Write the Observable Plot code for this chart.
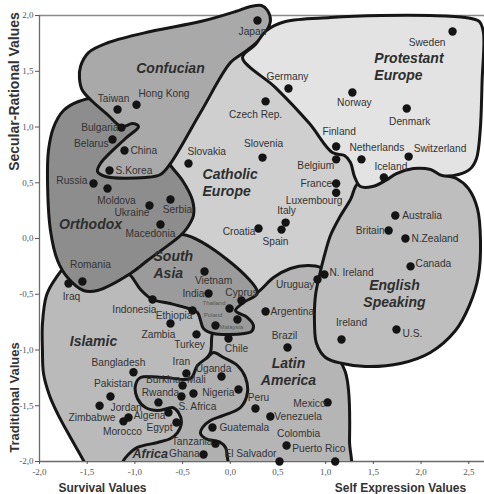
<!DOCTYPE html>
<html><head><meta charset="utf-8">
<script src="https://cdn.jsdelivr.net/npm/d3@7"></script>
<script src="https://cdn.jsdelivr.net/npm/@observablehq/plot@0.6"></script>
<style>
body{margin:0;background:#fff;}
#chart svg{display:block;}
</style></head><body><div id="chart"></div>
<script>
// ---- data ----
const countryNames = ["Japan","Sweden","Germany","Norway","Denmark","Czech Rep.","Finland","Belgium","Netherlands","Switzerland","Iceland","France","Luxembourg","Italy","Spain","Croatia","Slovenia","Slovakia","Australia","Britain","N.Zealand","Canada","N. Ireland","Uruguay","Argentina","Ireland","U.S.","Brazil","Mexico","Peru","Venezuela","Colombia","Puerto Rico","El Salvador","Guatemala","Tanzania","Ghana","Nigeria","Uganda","Iran","Burkina","Mali","S. Africa","Rwanda","Algeria","Egypt","Zimbabwe","Morocco","Jordan","Pakistan","Bangladesh","Turkey","Chile","Zambia","Ethiopia","Indonesia","India","Vietnam","Thailand","Cyprus","Poland","Malaysia","Romania","Iraq","Macedonia","Serbia","Ukraine","Moldova","Russia","S.Korea","China","Belarus","Bulgaria","Taiwan","Hong Kong"];
const survivalSelf = [0.285,2.33,0.61,1.28,1.85,0.37,1.11,1.11,1.375,1.87,1.61,1.11,1.11,0.58,0.537,0.296,0.338,-0.438,1.73,1.66,1.836,1.89,0.987,0.914,0.37,1.166,1.742,0.60,1.02,0.264,0.42,0.59,1.10,0.516,-0.187,-0.155,-0.28,0.086,-0.092,-0.46,-0.50,-0.386,-0.512,-0.753,-0.648,-0.564,-1.12,-1.067,-1.37,-1.256,-1.015,-0.354,-0.019,-0.627,-0.396,-0.815,-0.228,-0.27,-0.008,0.117,0.075,-0.155,-1.55,-1.696,-0.732,-0.627,-0.847,-1.287,-1.434,-1.266,-1.109,-1.235,-1.14,-1.182,-0.983];
const tradSecular = [1.955,1.857,1.345,1.31,1.166,1.23,0.825,0.71,0.71,0.735,0.547,0.493,0.41,0.143,0.08,0.09,0.726,0.673,0.206,0.072,0.0,-0.25,-0.323,-0.368,-0.655,-0.906,-0.816,-0.978,-1.47,-1.525,-1.596,-1.857,-2.0,-2.0,-1.695,-1.84,-1.937,-1.354,-1.238,-1.21,-1.318,-1.39,-1.417,-1.47,-1.56,-1.65,-1.64,-1.605,-1.50,-1.417,-1.20,-0.86,-0.897,-0.762,-0.646,-0.547,-0.493,-0.296,-0.628,-0.556,-0.726,-0.78,-0.386,-0.404,0.126,0.35,0.296,0.448,0.493,0.61,0.79,0.888,0.995,1.157,1.20];

const xTicks = [-2,-1.5,-1,-0.5,0,0.5,1,1.5,2,2.5];
const yTicks = [-2,-1.5,-1,-0.5,0,0.5,1,1.5,2];

// zone outlines (data coordinates)
const catholicZone = [[0.023,1.686],[0.526,1.372],[0.862,1.058],[1.103,0.807],[1.281,0.744],[1.365,0.475],[1.26,0.296],[1.082,-0.018],[0.966,-0.332],[0.63,-0.305],[0.285,-0.511],[-0.543,0.0],[-0.438,0.206],[-0.48,0.386],[-0.68,0.61],[-0.365,1.148]];
const islamicZone = [[-1.675,-0.215],[-1.832,-0.359],[-1.927,-0.511],[-1.969,-0.762],[-1.969,-1.004],[-1.958,-1.211],[-1.895,-1.408],[-1.811,-1.57],[-1.675,-1.785],[-1.539,-1.991],[-1.465,-2.126],[0.002,-2.126],[0.002,-0.915],[-0.155,-0.735],[-0.312,-0.60],[-0.732,-0.377],[-1.151,-0.215],[-1.465,-0.215]];
const latinZone = [[0.285,-0.484],[0.453,-0.35],[0.63,-0.269],[0.81,-0.242],[0.945,-0.26],[1.029,-0.332],[1.07,-0.556],[1.082,-0.915],[1.103,-1.004],[1.208,-1.202],[1.24,-1.363],[1.25,-1.812],[1.229,-2.126],[-0.396,-2.126],[-0.396,-1.453],[-0.354,-1.256],[-0.281,-1.112],[-0.208,-1.022],[-0.187,-0.852],[-0.103,-0.735],[0.0,-0.61]];
const africaZone = [[-0.941,-1.247],[-0.68,-1.247],[-0.417,-1.256],[-0.344,-1.139],[-0.239,-1.067],[-0.176,-1.022],[-0.071,-1.067],[0.075,-1.139],[0.159,-1.247],[0.18,-1.381],[0.107,-1.516],[-0.071,-1.587],[-0.208,-1.632],[-0.291,-1.695],[-0.312,-1.749],[-0.26,-1.794],[-0.103,-1.83],[-0.05,-1.874],[-0.029,-1.973],[-0.019,-2.126],[-1.172,-2.126],[-1.119,-1.991],[-1.078,-1.946],[-0.973,-1.874],[-0.763,-1.83],[-0.627,-1.794],[-0.553,-1.74],[-0.512,-1.65],[-0.543,-1.561],[-0.606,-1.516],[-0.658,-1.525],[-0.763,-1.543],[-0.889,-1.516],[-0.973,-1.435],[-0.994,-1.318]];
const southAsiaZone = [[-1.151,-0.269],[-0.836,-0.108],[-0.501,0.036],[0.285,-0.484],[0.138,-0.574],[0.055,-0.646],[0.18,-0.709],[0.243,-0.78],[0.222,-0.834],[0.149,-0.852],[-0.176,-0.852],[-0.281,-0.807],[-0.312,-0.735],[-0.344,-0.664],[-0.438,-0.628],[-0.627,-0.583],[-0.815,-0.547],[-0.941,-0.457],[-1.046,-0.332]];
const orthodoxZone = [[-1.591,1.229],[-1.413,1.256],[-1.151,1.121],[-0.941,1.076],[-0.732,0.789],[-0.627,0.655],[-0.501,0.52],[-0.396,0.341],[-0.386,0.206],[-0.449,0.099],[-0.522,0.027],[-0.868,-0.197],[-1.046,-0.314],[-1.392,-0.466],[-1.539,-0.466],[-1.706,-0.35],[-1.811,-0.197],[-1.885,0.072],[-1.916,0.52],[-1.906,0.789],[-1.853,0.996],[-1.748,1.148]];
const confucianZone = [[-1.57,1.543],[-1.486,1.668],[-1.277,1.758],[-0.836,1.857],[-0.312,1.946],[0.055,2.036],[0.212,2.081],[0.327,2.09],[0.39,2.045],[0.421,1.955],[0.37,1.848],[0.264,1.749],[0.128,1.659],[0.002,1.578],[-0.312,1.13],[-0.627,0.673],[-0.732,0.574],[-0.889,0.547],[-1.308,0.556],[-1.392,0.601],[-1.361,0.673],[-1.099,0.897],[-0.962,1.004],[-1.025,1.031],[-1.14,1.004],[-1.287,1.112],[-1.444,1.229],[-1.549,1.327],[-1.581,1.435]];
const englishZone = [[1.344,0.502],[1.627,0.556],[1.92,0.655],[2.12,0.628],[2.224,0.574],[2.371,0.538],[2.497,0.448],[2.591,0.269],[2.623,-0.018],[2.602,-0.332],[2.507,-0.60],[2.361,-0.825],[2.098,-1.022],[1.784,-1.121],[1.417,-1.148],[1.176,-1.121],[0.998,-1.067],[0.904,-0.942],[0.883,-0.762],[0.893,-0.511],[0.935,-0.332],[0.987,-0.152],[1.05,0.027],[1.145,0.188],[1.26,0.35]];
const protestantZone = [[0.128,1.623],[0.264,1.74],[0.379,1.865],[0.579,1.946],[1.05,1.982],[1.574,2.0],[2.10,2.0],[2.465,1.982],[2.612,1.946],[2.654,1.848],[2.64,1.417],[2.62,0.969],[2.581,0.717],[2.52,0.628],[2.392,0.574],[2.22,0.565],[2.10,0.619],[1.92,0.628],[1.742,0.583],[1.627,0.52],[1.491,0.466],[1.365,0.466],[1.302,0.556],[1.26,0.682],[1.197,0.744],[1.07,0.771],[0.83,1.031],[0.474,1.354]];

const zoneNames = ["Confucian","Protestant\nEurope","Catholic\nEurope","Orthodox","South\nAsia","Islamic","English\nSpeaking","Latin\nAmerica","Africa"];
const zoneLabelX = [-0.627,1.51,-0.291,-1.465,-0.805,-1.434,1.721,0.61,-1.025];
const zoneLabelY = [1.534,1.547,0.507,0.135,-0.229,-0.915,-0.493,-1.188,-1.928];

// ---- presentation ----
const zoneStyles = [
  {pts: catholicZone, fill: "#cfcfcf", stroke: "none", curve: "linear-closed"},
  {pts: islamicZone, fill: "#bababa"},
  {pts: latinZone, fill: "#b5b5b5"},
  {pts: africaZone, fill: "#b0b0b0"},
  {pts: southAsiaZone, fill: "#9b9b9b"},
  {pts: orthodoxZone, fill: "#8d8d8d"},
  {pts: confucianZone, fill: "#a9a9a9"},
  {pts: englishZone, fill: "#bebebe"},
  {pts: protestantZone, fill: "#e3e3e3"}
];
const zoneAnchor = ["middle","start","start","middle","start","middle","middle","middle","start"];
const zoneSize = [14,14,14,14,14,14,14,14,12.5];

const labelPlace = {
 "Japan":[-5,11,"middle"],"Sweden":[-7,11,"end"],"Germany":[-1,-12,"middle"],"Norway":[2,10,"middle"],
 "Denmark":[3,13,"middle"],"Czech Rep.":[-10,13,"middle"],"Finland":[3,-15,"middle"],"Belgium":[-2,6,"end"],
 "Netherlands":[-12,-12,"start"],"Switzerland":[5,-8,"start"],"Iceland":[7,-11,"middle"],"France":[-4,0,"end"],
 "Luxembourg":[-22,8,"middle"],"Italy":[1,-12,"middle"],"Spain":[-6,12,"middle"],"Croatia":[-3,3,"end"],
 "Slovenia":[1,-14,"middle"],"Slovakia":[-1,-12,"start"],"Australia":[7,0,"start"],"Britain":[-4,0,"end"],
 "N.Zealand":[6,0,"start"],"Canada":[5,-3,"start"],"N. Ireland":[5,-2,"start"],"Uruguay":[-3,5,"end"],
 "Argentina":[5,0,"start"],"Ireland":[10,-17,"middle"],"U.S.":[6,4,"start"],"Brazil":[-3,-12,"middle"],
 "Mexico":[-2,1,"end"],"Peru":[3,-11,"middle"],"Venezuela":[4,0,"start"],"Colombia":[12,-12,"middle"],
 "Puerto Rico":[-43,-13,"start"],"El Salvador":[-3,-8,"end"],"Guatemala":[7,0,"start"],"Tanzania":[-3,-2,"end"],
 "Ghana":[-4,-1,"end"],"Nigeria":[-4,3,"end"],"Uganda":[-8,-8,"middle"],"Iran":[-5,-12,"middle"],
 "Burkina":[-2,-6,"end"],"Mali":[3,-14,"middle"],"S. Africa":[-3,10,"start"],"Rwanda":[2,-10,"middle"],
 "Algeria":[-3,3,"end"],"Egypt":[-4,5,"end"],"Zimbabwe":[-8,-4,"end"],"Morocco":[-6,14,"middle"],
 "Jordan":[11,2,"start"],"Pakistan":[3,-13,"middle"],"Bangladesh":[-15,-10,"middle"],"Turkey":[-7,10,"middle"],
 "Chile":[8,10,"middle"],"Zambia":[-12,11,"middle"],"Ethiopia":[0,5,"end"],"Indonesia":[4,10,"end"],
 "India":[-4,0,"end"],"Vietnam":[9,9,"middle"],"Thailand":[-4,-5,"end"],"Cyprus":[0,-8,"middle"],
 "Poland":[-15,-4,"end"],"Malaysia":[4,2,"start"],"Romania":[8,-17,"middle"],"Iraq":[3,13,"middle"],
 "Macedonia":[-10,9,"middle"],"Serbia":[7,10,"middle"],"Ukraine":[0,7,"end"],"Moldova":[9,12,"middle"],
 "Russia":[-6,-3,"end"],"S.Korea":[6,0,"start"],"China":[6,0,"start"],"Belarus":[-4,4,"end"],
 "Bulgaria":[-3,0,"end"],"Taiwan":[-4,-11,"middle"],"Hong Kong":[2,-11,"start"]
};
const tinyLabels = new Set(["Thailand","Poland","Malaysia"]);

const countries = countryNames.map((n,i) => ({name: n, x: survivalSelf[i], y: tradSecular[i]}));
const zones = zoneNames.map((n,i) => ({name: n, x: zoneLabelX[i], y: zoneLabelY[i], anchor: zoneAnchor[i], size: zoneSize[i]}));
const fmt = d => d.toFixed(1).replace(".", ",");

const marks = [];
marks.push(Plot.ruleY([2], {stroke: "#8a8a8a", strokeWidth: 1.6}));
marks.push(Plot.ruleY([-2], {stroke: "#6a6a6a", strokeWidth: 1.3}));
marks.push(Plot.ruleX([-2], {y1: -2, y2: 2, stroke: "#6a6a6a", strokeWidth: 1.3}));
zoneStyles.forEach(z => {
  marks.push(Plot.line(z.pts, {x: d => d[0], y: d => d[1], curve: z.curve || "catmull-rom-closed",
    fill: z.fill, stroke: z.stroke || "#161616", strokeWidth: 3, strokeLinejoin: "round", clip: true}));
});
marks.push(Plot.axisX({ticks: xTicks, tickFormat: fmt, tickSize: 3, tickPadding: 4, fontFamily: "Liberation Serif", fontSize: 9, color: "#555", label: null}));
marks.push(Plot.axisY({ticks: yTicks, tickFormat: fmt, tickSize: 4, tickPadding: 2, fontFamily: "Liberation Serif", fontSize: 9, color: "#555", label: null}));
marks.push(Plot.dot(countries, {x: "x", y: "y", r: 4.2, fill: "#141414", stroke: null}));
countries.forEach(c => {
  const p = labelPlace[c.name] || [6, 0, "start"];
  const tiny = tinyLabels.has(c.name);
  marks.push(Plot.text([c], {x: "x", y: "y", text: "name", dx: p[0], dy: p[1], textAnchor: p[2],
    fontSize: tiny ? 6 : 10.2, fill: tiny ? "#555" : "#333", fontFamily: "Liberation Sans"}));
});
zones.forEach(z => {
  marks.push(Plot.text([z], {x: "x", y: "y", text: "name", textAnchor: z.anchor, lineHeight: 1.22,
    fontSize: z.size, fontWeight: "bold", fontStyle: "italic", fill: "#2e2e2e", fontFamily: "Liberation Sans"}));
});
const titleStyle = {textAnchor: "middle", lineAnchor: "middle", fontWeight: "bold", fill: "#333", fontFamily: "Liberation Sans"};
marks.push(Plot.text(["Secular-Rational Values"], {...titleStyle, frameAnchor: "top-left", dx: -25, dy: 88, rotate: -90, fontSize: 14}));
marks.push(Plot.text(["Traditional Values"], {...titleStyle, frameAnchor: "top-left", dx: -25, dy: 394, rotate: -90, fontSize: 13}));
marks.push(Plot.text(["Survival Values"], {...titleStyle, frameAnchor: "bottom-left", dx: 63, dy: 27, fontSize: 12}));
marks.push(Plot.text(["Self Expression Values"], {...titleStyle, frameAnchor: "bottom-left", dx: 361, dy: 27, fontSize: 12}));

const chart = Plot.plot({
  width: 484, height: 494,
  marginLeft: 39, marginRight: 0, marginTop: 3, marginBottom: 33,
  x: {domain: [-2, 2.665], label: null},
  y: {domain: [-2, 2.108], label: null},
  style: {background: "#fff", fontFamily: "Liberation Sans", overflow: "visible"},
  marks
});
document.getElementById("chart").appendChild(chart);
</script>
</body></html>
